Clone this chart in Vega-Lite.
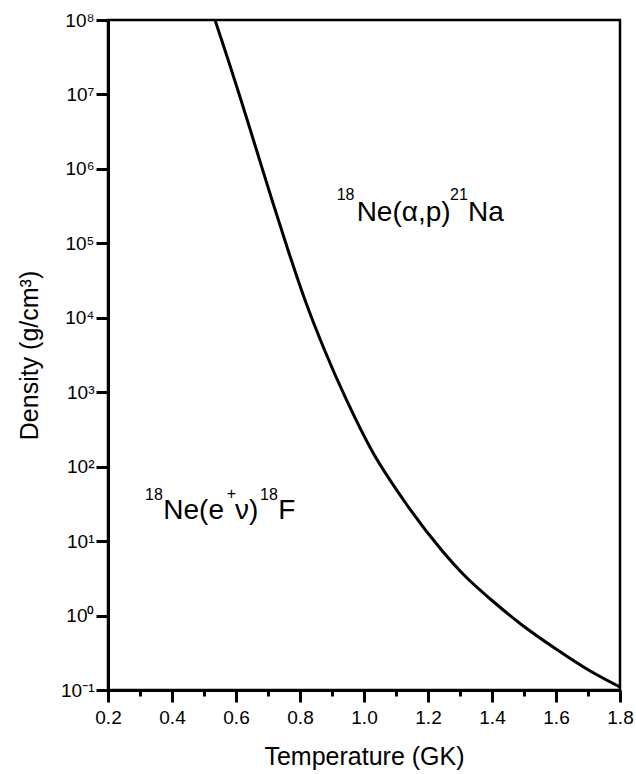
{
  "$schema": "https://vega.github.io/schema/vega-lite/v6.json",
  "width": 512,
  "height": 670,
  "autosize": "none",
  "padding": {"left": 108, "top": 20, "right": 16, "bottom": 84},
  "background": "white",
  "config": {
    "view": {"stroke": "#000", "strokeWidth": 2.5},
    "font": "Liberation Sans"
  },
  "datasets": {
    "curve": [
      {"T": 0.5344, "rho": 1e8},
      {"T": 0.5756, "rho": 2.902e7},
      {"T": 0.6156, "rho": 8.42e6},
      {"T": 0.6641, "rho": 1.794e6},
      {"T": 0.7125, "rho": 3.821e5},
      {"T": 0.7625, "rho": 8.135e4},
      {"T": 0.8156, "rho": 1.733e4},
      {"T": 0.8766, "rho": 3692},
      {"T": 0.9453, "rho": 786.4},
      {"T": 1.0234, "rho": 167.5},
      {"T": 1.1234, "rho": 35.67},
      {"T": 1.2422, "rho": 7.596},
      {"T": 1.3125, "rho": 3.506},
      {"T": 1.3984, "rho": 1.618},
      {"T": 1.4938, "rho": 0.7465},
      {"T": 1.6047, "rho": 0.3446},
      {"T": 1.7016, "rho": 0.1856},
      {"T": 1.8, "rho": 0.1097}
    ],
    "labels": [
      {"T": 0.977, "rho": 2.0e5, "t": "Ne(α,p)", "k": "main"},
      {"T": 1.325, "rho": 2.0e5, "t": "Na", "k": "main"},
      {"T": 0.3728, "rho": 19.8, "t": "Ne(e", "k": "main"},
      {"T": 0.5969, "rho": 19.8, "t": "ν)", "k": "main"},
      {"T": 0.7322, "rho": 19.8, "t": "F", "k": "main"},
      {"T": 0.9147, "rho": 3.82e5, "t": "18", "k": "sup"},
      {"T": 1.26875, "rho": 3.82e5, "t": "21", "k": "sup"},
      {"T": 0.3156, "rho": 35.6, "t": "18", "k": "sup"},
      {"T": 0.5709, "rho": 36.5, "t": "+", "k": "sup"},
      {"T": 0.675, "rho": 35.6, "t": "18", "k": "sup"}
    ]
  },
  "encoding": {
    "x": {
      "field": "T", "type": "quantitative",
      "scale": {"domain": [0.2, 1.8], "nice": false, "zero": false},
      "axis": {
        "title": "Temperature (GK)",
        "values": [0.2, 0.3, 0.4, 0.5, 0.6, 0.7, 0.8, 0.9, 1.0, 1.1, 1.2, 1.3, 1.4, 1.5, 1.6, 1.7, 1.8],
        "labelExpr": "round(datum.value*10) % 2 == 0 ? format(datum.value, '.1f') : ''",
        "grid": false,
        "domain": true,
        "ticks": true,
        "domainColor": "#000", "domainWidth": 3,
        "tickColor": "#000", "tickWidth": 3, "tickOpacity": 1, "domainOpacity": 1,
        "tickSize": {"condition": {"test": "round(datum.value*10) % 2 == 0", "value": 12}, "value": 6},
        "labelColor": "#000", "titleColor": "#000", "titleFontWeight": "normal",
        "labelPadding": 6,
        "labelFontSize": 19,
        "titleFontSize": 25,
        "titlePadding": 17,
        "labelFlush": false
      }
    },
    "y": {
      "field": "rho", "type": "quantitative",
      "scale": {"type": "log", "domain": [0.1, 1e8], "nice": false},
      "axis": {
        "title": "Density (g/cm³)",
        "values": [0.1, 1, 10, 100, 1000, 10000, 100000, 1000000, 10000000, 100000000],
        "labelExpr": "'10' + ['⁻¹','⁰','¹','²','³','⁴','⁵','⁶','⁷','⁸'][round(log(datum.value)/LN10)+1]",
        "grid": false,
        "domain": true,
        "ticks": true,
        "domainColor": "#000", "domainWidth": 3,
        "tickColor": "#000", "tickWidth": 3, "tickOpacity": 1, "domainOpacity": 1,
        "tickSize": {"condition": {"test": "datum.value > 0", "value": 12}, "value": 12},
        "labelColor": "#000", "titleColor": "#000", "titleFontWeight": "normal",
        "labelPadding": 2,
        "labelFontSize": 19,
        "titleFontSize": 25,
        "titlePadding": 18,
        "labelFlush": false
      }
    }
  },
  "layer": [
    {
      "data": {"name": "curve"},
      "mark": {"type": "line", "color": "#000", "strokeWidth": 3, "interpolate": "monotone"}
    },
    {
      "data": {"name": "labels"},
      "transform": [{"filter": "datum.k == 'main'"}],
      "mark": {"type": "text", "align": "left", "baseline": "alphabetic", "fontSize": 28, "color": "#000", "font": "Liberation Sans"},
      "encoding": {"text": {"field": "t"}}
    },
    {
      "data": {"name": "labels"},
      "transform": [{"filter": "datum.k == 'sup'"}],
      "mark": {"type": "text", "align": "left", "baseline": "alphabetic", "fontSize": 16, "color": "#000", "font": "Liberation Sans"},
      "encoding": {"text": {"field": "t"}}
    }
  ]
}
